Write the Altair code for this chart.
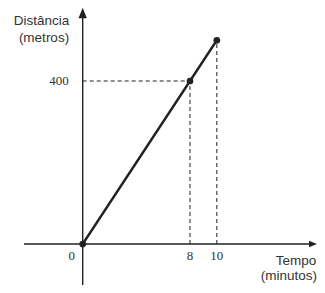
import altair as alt
import pandas as pd

# data
tempo = [0, 8, 10]
distancia = [0, 400, 500]
x_ticks = [0, 8, 10]
y_ticks = [400]

pts = pd.DataFrame({"t": tempo, "d": distancia})
xt = pd.DataFrame({"t": x_ticks, "lab": [str(v) for v in x_ticks], "d": [0] * len(x_ticks)})
yt = pd.DataFrame({"d": y_ticks, "lab": [str(v) for v in y_ticks], "t": [0] * len(y_ticks)})
guides = pd.DataFrame({"t": tempo[1:], "d": distancia[1:], "z": [0, 0]})

W, H = 309, 277
xs = alt.Scale(domain=[-5.57, 17.47], nice=False, zero=False)
ys = alt.Scale(domain=[-100.6, 579.1], nice=False, zero=False)
X = lambda f: alt.X(f, type="quantitative", scale=xs, axis=None)
Y = lambda f: alt.Y(f, type="quantitative", scale=ys, axis=None)

ink = "#222222"
base = alt.Chart(pts)

# axes (decorative)
x_axis = alt.Chart(pd.DataFrame({"d": [0]})).mark_rule(color=ink, strokeWidth=1.4).encode(
    y=Y("d"), x=alt.value(16), x2=alt.value(304))
y_axis = alt.Chart(pd.DataFrame({"t": [0]})).mark_rule(color=ink, strokeWidth=1.4).encode(
    x=X("t"), y=alt.value(8), y2=alt.value(277))
x_arrow = alt.Chart(pd.DataFrame({"d": [0]})).mark_point(
    shape="M1,0L-1,-0.8L-1,0.8Z", filled=True, color=ink, opacity=1, size=64).encode(
    y=Y("d"), x=alt.value(305))
y_arrow = alt.Chart(pd.DataFrame({"t": [0]})).mark_point(
    shape="M0,-1L0.8,1L-0.8,1Z", filled=True, color=ink, opacity=1, size=110).encode(
    x=X("t"), y=alt.value(5))

# dashed guides
vguide = alt.Chart(guides).mark_rule(color=ink, strokeWidth=1, strokeDash=[4, 3]).encode(
    x=X("t"), y=Y("z"), y2=alt.Y2("d"))
hguide = alt.Chart(guides.iloc[:1]).mark_rule(
    color=ink, strokeWidth=1, strokeDash=[4, 3]).encode(
    y=Y("d"), x=X("z"), x2=alt.X2("t"))

line = base.mark_line(color=ink, strokeWidth=2.4).encode(x=X("t"), y=Y("d"))
dots = base.mark_circle(color=ink, opacity=1, size=45).encode(x=X("t"), y=Y("d"))

serif = dict(font="Liberation Serif", fontSize=13, color="#333333", baseline="middle")
xlab0 = alt.Chart(xt[xt.t == 0]).mark_text(dy=12, dx=-11, **serif).encode(
    x=X("t"), y=Y("d"), text="lab:N")
xlabs = alt.Chart(xt[xt.t != 0]).mark_text(dy=12, dx=0, **serif).encode(
    x=X("t"), y=Y("d"), text="lab:N")
ylabs = alt.Chart(yt).mark_text(align="right", dx=-14, **serif).encode(
    x=X("t"), y=Y("d"), text="lab:N")

def txt(s, x, y, align="center"):
    return alt.Chart(pd.DataFrame({"s": [s]})).mark_text(
        font="Liberation Sans", fontSize=13.5, color="#333333", baseline="alphabetic", align=align
    ).encode(text="s:N", x=alt.value(x), y=alt.value(y))

titles = [txt("Distância", 33.5, 17), txt("(metros)", 36, 33.5),
          txt("Tempo", 288, 257), txt("(minutos)", 309, 272, "right")]

chart = alt.layer(x_axis, y_axis, x_arrow, y_arrow, vguide, hguide, line, dots,
                  xlab0, xlabs, ylabs, *titles).properties(
    width=W, height=H, autosize=alt.AutoSizeParams(type="none"), padding=0
).configure_view(stroke=None)

chart.save("out.html", embed_options={"renderer": "svg", "actions": False})
